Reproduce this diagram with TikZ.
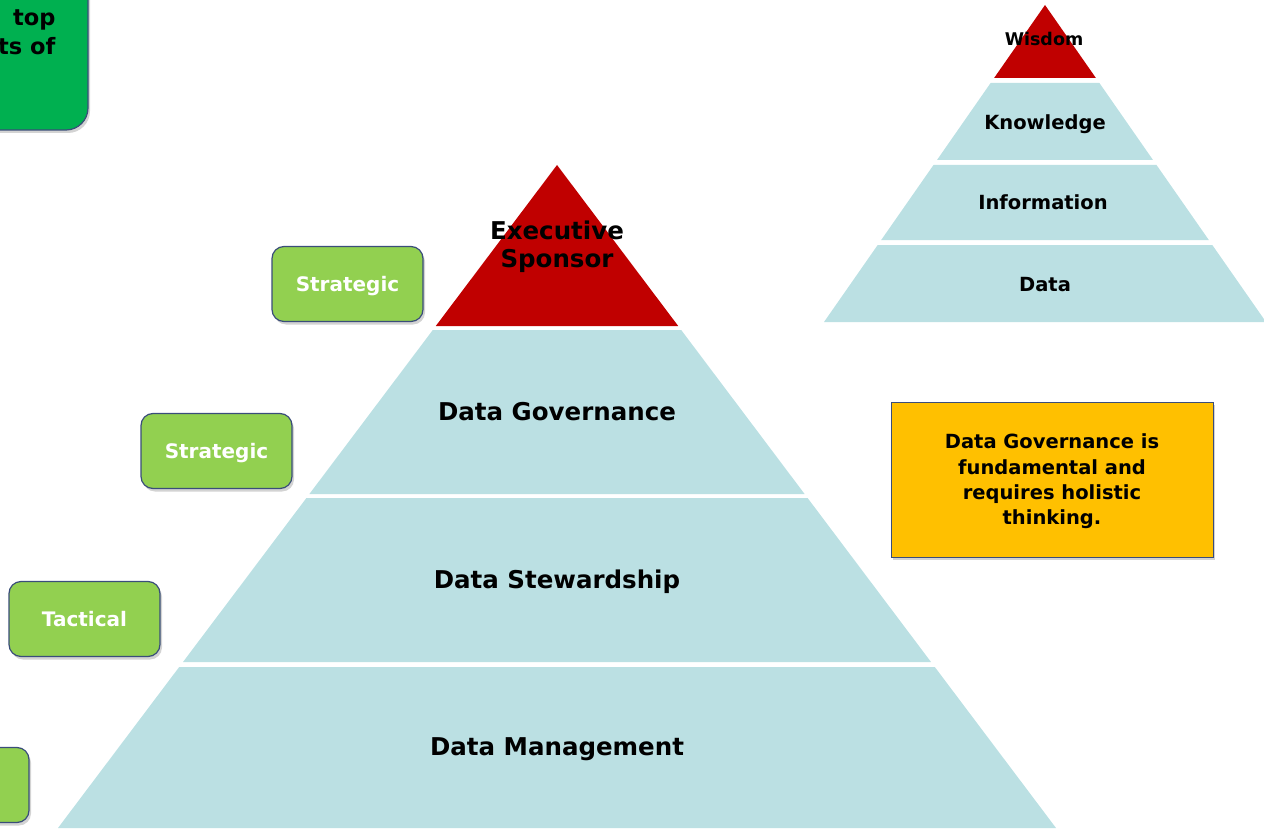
\documentclass[tikz,border=0pt]{standalone}
\usepackage{fontspec}
\setmainfont{DejaVu Sans}
\usetikzlibrary{shadows}
\definecolor{tier}{HTML}{BBE0E3}
\definecolor{topred}{HTML}{C00000}
\definecolor{leaf}{HTML}{92D050}
\definecolor{darkleaf}{HTML}{00B050}
\definecolor{amber}{HTML}{FFC000}
\definecolor{navy}{HTML}{3A4D7A}
\begin{document}
\begin{tikzpicture}[x=1pt,y=-1pt,
    label/.style={font=\fontsize{24.5}{28}\selectfont\bfseries,text=black,text depth=0pt},
    smalllabel/.style={font=\fontsize{19.5}{22}\selectfont\bfseries,text=black,text depth=0pt},
    role/.style={draw=navy,line width=1.2pt,fill=leaf,rounded corners=12pt,
      minimum width=151pt,minimum height=75pt,text=white,text depth=0pt,
      font=\fontsize{20}{22}\selectfont\bfseries,
      drop shadow={opacity=0.35,shadow xshift=2pt,shadow yshift=-3pt}},
    note/.style={draw=navy,line width=0.8pt,fill=amber,
      minimum width=322pt,minimum height=155pt,align=center,text depth=0pt,
      font=\fontsize{19.5}{25.3}\selectfont\bfseries,
      drop shadow={opacity=0.35,shadow xshift=2pt,shadow yshift=-3pt}}]
  \useasboundingbox (0,0) rectangle (1264,832);
  \clip (0,0) rectangle (1264,832);
  % main pyramid
  \fill[topred] (557,165) -- (678.2,326) -- (435.8,326) -- cycle;
  \fill[tier] (432.8,330) -- (681.2,330) -- (804.6,494) -- (309.4,494) -- cycle;
  \fill[tier] (306.4,498) -- (807.6,498) -- (931,662) -- (183,662) -- cycle;
  \fill[tier] (179.2,667) -- (934.8,667) -- (1056,828) -- (58,828) -- cycle;
  \node[label,align=center] (exec) at (557,244) {Executive\\Sponsor};
  \node[label] (gov) at (557,411) {Data Governance};
  \node[label] (stew) at (557,579) {Data Stewardship};
  \node[label] (mgmt) at (557,747) {Data Management};
  % small pyramid
  \fill[topred] (1045,5) -- (1095.9,78) -- (994.1,78) -- cycle;
  \fill[tier] (990.6,83) -- (1099.4,83) -- (1153,160) -- (937,160) -- cycle;
  \fill[tier] (933.5,165) -- (1156.5,165) -- (1208.8,240) -- (881.2,240) -- cycle;
  \fill[tier] (877.7,245) -- (1212.3,245) -- (1266,322) -- (824,322) -- cycle;
  \node[smalllabel,font=\fontsize{17.5}{20}\selectfont\bfseries] (wisdom) at (1044,39) {Wisdom};
  \node[smalllabel] (know) at (1045,122) {Knowledge};
  \node[smalllabel] (info) at (1043,202) {Information};
  \node[smalllabel] (data) at (1045,284) {Data};
  % side boxes
  \node[role] (strat1) at (347.5,284) {Strategic};
  \node[role] (strat2) at (216.5,451) {Strategic};
  \node[role] (tact) at (84.5,619) {Tactical};
  \node[role] (ops) at (-46.5,785) {};
  \node[draw=navy,line width=1.2pt,fill=darkleaf,rounded corners=22pt,
    minimum width=260pt,minimum height=200pt,
    drop shadow={opacity=0.35,shadow xshift=2pt,shadow yshift=-3pt}] (intro) at (-42,30) {};
  \node[anchor=north east,align=right,font=\fontsize{22.5}{29}\selectfont\bfseries] (introtext) at (59,6) {top\\ts of};
  \node[note] (fund) at (1052,479.5) {Data Governance is\\fundamental and\\requires holistic\\thinking.};
\end{tikzpicture}
\end{document}
